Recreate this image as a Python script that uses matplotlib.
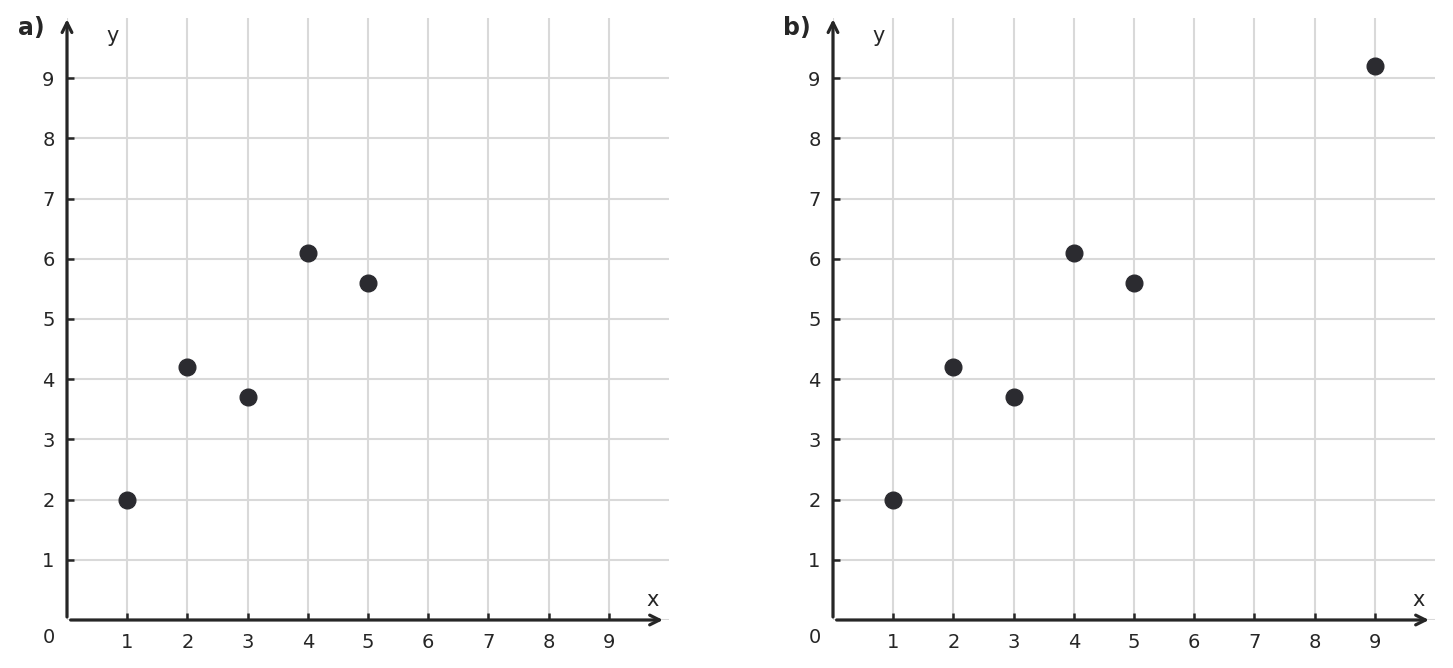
import matplotlib
matplotlib.use("Agg")
import matplotlib.pyplot as plt

# data
x_a = [1, 2, 3, 4, 5]
y_a = [2.0, 4.2, 3.7, 6.1, 5.6]
x_b = [1, 2, 3, 4, 5, 9]
y_b = [2.0, 4.2, 3.7, 6.1, 5.6, 9.2]
tick_vals = list(range(1, 10))
panel_labels = ["a)", "b)"]

W, H = 1453, 668
AXIS_COL = "#262626"
GRID_COL = "#d9d9d9"
DOT_COL = "#2b2b30"

fig = plt.figure(figsize=(W / 100, H / 100), dpi=100)


def draw_panel(left_px, xs, ys, label):
    ax = fig.add_axes([left_px / W, 48 / H, 602 / W, 602 / H])
    ax.set_xlim(0, 10)
    ax.set_ylim(0, 10)
    for s in ax.spines.values():
        s.set_visible(False)

    ax.set_xticks(tick_vals)
    ax.set_yticks(tick_vals)
    ax.tick_params(direction="in", length=5, width=1.8, color=AXIS_COL,
                   labelsize=14, labelcolor=AXIS_COL)
    ax.tick_params(axis="x", pad=9)
    ax.tick_params(axis="y", pad=9)
    ax.grid(True, color=GRID_COL, linewidth=1.5)
    ax.axhline(0, color=GRID_COL, linewidth=1.5, zorder=0.5)
    ax.axvline(0, color=GRID_COL, linewidth=1.5, zorder=0.5)
    ax.set_axisbelow(True)

    # axes as arrows
    arrow = dict(arrowstyle="->,head_length=0.7,head_width=0.35",
                 color=AXIS_COL, lw=2.3, shrinkA=0, shrinkB=0)
    ax.annotate("", xy=(9.9, 0), xytext=(0.06, 0), arrowprops=arrow,
                annotation_clip=False)
    ax.annotate("", xy=(0, 9.98), xytext=(0, 0.05), arrowprops=arrow,
                annotation_clip=False)

    ax.plot(xs, ys, "o", color=DOT_COL, markersize=12, clip_on=False,
            zorder=3)

    ax.text(9.73, 0.33, "x", fontsize=15, color=AXIS_COL,
            ha="center", va="center")
    ax.text(0.76, 9.7, "y", fontsize=15, color=AXIS_COL,
            ha="center", va="center")
    ax.text(-0.3, -0.29, "0", fontsize=14, color=AXIS_COL,
            ha="center", va="center")
    ax.text(-0.6, 9.84, label, fontsize=17, fontweight="bold",
            color=AXIS_COL, ha="center", va="center")
    return ax


draw_panel(67, x_a, y_a, panel_labels[0])
draw_panel(833, x_b, y_b, panel_labels[1])

fig.savefig("out.png", dpi=100)
